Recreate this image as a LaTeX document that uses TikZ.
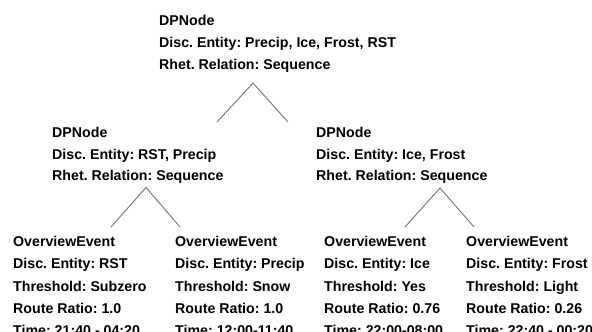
\documentclass[tikz,border=0pt]{standalone}
\usepackage{fontspec}
\setmainfont{Liberation Sans}
\frenchspacing
\begin{document}
\begin{tikzpicture}[x=1pt,y=-1pt,
  txt/.style={anchor=base west, inner sep=0pt, font=\bfseries\fontsize{14.2}{17}\selectfont\frenchspacing},
  link/.style={draw=black!55, line width=0.9pt}]
\useasboundingbox (0,0) rectangle (592,332);
\fill[white] (0,0) rectangle (592,332);
% top DPNode
\node[txt] (r1) at (159,25.7) {DPNode};
\node[txt] (r2) at (159,47.3) {Disc. Entity: Precip, Ice, Frost, RST};
\node[txt] (r3) at (159,69) {Rhet. Relation: Sequence};
% middle left DPNode
\node[txt] (a1) at (52,137.3) {DPNode};
\node[txt] (a2) at (52,159) {Disc. Entity: RST, Precip};
\node[txt] (a3) at (52,180.5) {Rhet. Relation: Sequence};
% middle right DPNode
\node[txt] (b1) at (316,137.3) {DPNode};
\node[txt] (b2) at (316,159) {Disc. Entity: Ice, Frost};
\node[txt] (b3) at (316,180.5) {Rhet. Relation: Sequence};
% leaves
\node[txt] (c1) at (13,246.3) {OverviewEvent};
\node[txt] (c2) at (13,268.7) {Disc. Entity: RST};
\node[txt] (c3) at (13,291.3) {Threshold: Subzero};
\node[txt] (c4) at (13,313) {Route Ratio: 1.0};
\node[txt] (c5) at (13,335) {Time: 21:40 - 04:20};
\node[txt] (d1) at (175,246.3) {OverviewEvent};
\node[txt] (d2) at (175,268.7) {Disc. Entity: Precip};
\node[txt] (d3) at (175,291.3) {Threshold: Snow};
\node[txt] (d4) at (175,313) {Route Ratio: 1.0};
\node[txt] (d5) at (175,335) {Time: 12:00-11:40};
\node[txt] (e1) at (324,246.3) {OverviewEvent};
\node[txt] (e2) at (324,268.7) {Disc. Entity: Ice};
\node[txt] (e3) at (324,291.3) {Threshold: Yes};
\node[txt] (e4) at (324,313) {Route Ratio: 0.76};
\node[txt] (e5) at (324,335) {Time: 22:00-08:00};
\node[txt] (f1) at (466,246.3) {OverviewEvent};
\node[txt] (f2) at (466,268.7) {Disc. Entity: Frost};
\node[txt] (f3) at (466,291.3) {Threshold: Light};
\node[txt] (f4) at (466,313) {Route Ratio: 0.26};
\node[txt] (f5) at (466,335) {Time: 22:40 - 00:20};
% connector points
\coordinate (rApex) at (253,83);
\coordinate (rL) at (217,122);
\coordinate (rR) at (288,122);
\coordinate (aApex) at (146,187.5);
\coordinate (aL) at (111,227);
\coordinate (aR) at (180,227);
\coordinate (bApex) at (440,188);
\coordinate (bL) at (405,227);
\coordinate (bR) at (474,227);
\draw[link] (rL) -- (rApex) -- (rR);
\draw[link] (aL) -- (aApex) -- (aR);
\draw[link] (bL) -- (bApex) -- (bR);
\end{tikzpicture}
\end{document}
